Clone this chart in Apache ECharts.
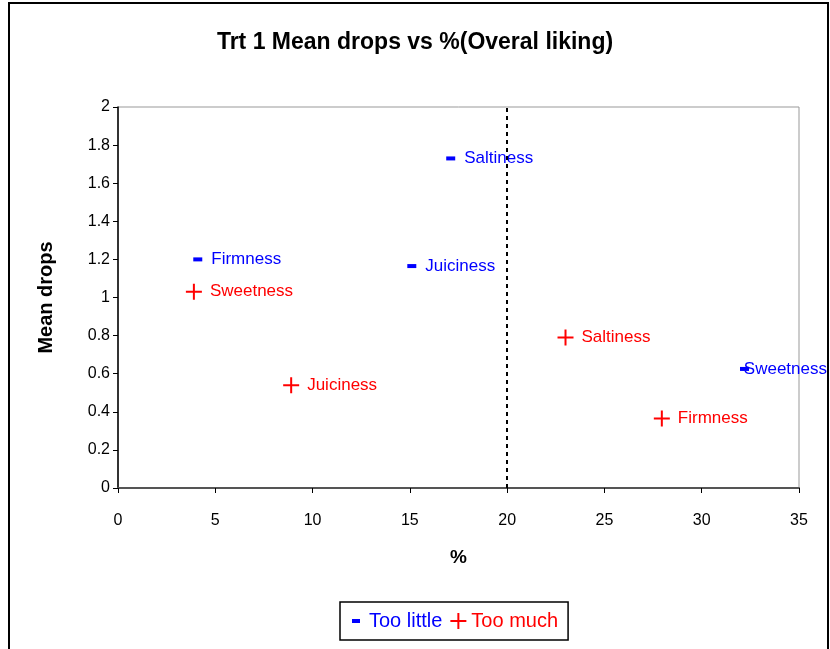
<!DOCTYPE html>
<html>
<head>
<meta charset="utf-8">
<script src="https://cdn.jsdelivr.net/npm/echarts@6/dist/echarts.min.js"></script>
<style>html,body{margin:0;padding:0;background:#fff}#c{width:830px;height:649px}</style>
</head>
<body>
<div id="c"></div>
<script>
const tooLittleNames = ['Firmness', 'Saltiness', 'Juiciness', 'Sweetness'];
const tooLittleX = [4.1, 17.1, 15.1, 32.2];
const tooLittleY = [1.2, 1.73, 1.165, 0.625];
const tooMuchNames = ['Sweetness', 'Juiciness', 'Saltiness', 'Firmness'];
const tooMuchX = [3.9, 8.9, 23.0, 27.95];
const tooMuchY = [1.03, 0.54, 0.79, 0.365];
const cutoffX = 20;

const dashPath = 'path://M0,0h10v4h-10z';
const plusPath = 'path://M7,0h2v16h-2z M0,7h16v2h-16z';
const font = 'Liberation Sans, Arial, sans-serif';

function pts(xs, ys, names) { return xs.map((x, i) => ({ value: [x, ys[i]], name: names[i] })); }

const chart = echarts.init(document.getElementById('c'), null, { renderer: 'canvas' });
chart.setOption({
  animation: false,
  backgroundColor: '#fff',
  title: {
    text: 'Trt 1 Mean drops vs %(Overal liking)',
    left: 'center', top: 26,
    textStyle: { fontFamily: font, fontSize: 23, fontWeight: 'bold', color: '#000' }
  },
  grid: { left: 118, right: 31, top: 107, bottom: 161, show: true, borderColor: '#999', borderWidth: 1 },
  xAxis: {
    type: 'value', min: 0, max: 35, interval: 5,
    name: '%', nameLocation: 'middle', nameGap: 60,
    nameTextStyle: { fontFamily: font, fontSize: 19, fontWeight: 'bold', color: '#000' },
    axisLine: { lineStyle: { color: '#555', width: 2 } },
    axisTick: { show: true, length: 5, lineStyle: { color: '#000' } },
    axisLabel: { fontFamily: font, fontSize: 16, color: '#000', margin: 25 },
    splitLine: { show: false }
  },
  yAxis: {
    type: 'value', min: 0, max: 2, interval: 0.2,
    name: 'Mean drops', nameLocation: 'middle', nameGap: 62, nameRotate: 90,
    nameTextStyle: { fontFamily: font, fontSize: 20, fontWeight: 'bold', color: '#000' },
    axisLine: { show: true, onZero: false, lineStyle: { color: '#000', width: 1.5 } },
    axisTick: { show: true, length: 5, lineStyle: { color: '#000' } },
    axisLabel: { fontFamily: font, fontSize: 16, color: '#000', margin: 8 },
    splitLine: { show: false }
  },
  legend: {
    bottom: 9, left: 340,
    itemGap: 8, itemWidth: 16, itemHeight: 16,
    borderColor: '#000', borderWidth: 1.5, padding: [9, 10, 9, 8],
    textStyle: { fontFamily: font, fontSize: 20 },
    data: [
      { name: 'Too little', icon: 'path://M0,0M16,16M4,6h8v4h-8z', itemStyle: { color: '#0000ff' }, textStyle: { color: '#0000ff' } },
      { name: 'Too much', icon: plusPath, itemStyle: { color: '#ff0000' }, textStyle: { color: '#ff0000' } }
    ]
  },
  labelLayout: function (p) {
    const r = p.labelRect;
    if (r.x + r.width > 828) return { x: 827 - r.width, y: r.y, align: 'left', verticalAlign: 'top' };
    return {};
  },
  series: [
    {
      name: 'Too little', type: 'scatter',
      symbol: dashPath, symbolSize: [9, 4],
      itemStyle: { color: '#0000ff', opacity: 1 },
      label: { show: true, position: 'right', distance: 9, formatter: '{b}', fontFamily: font, fontSize: 17, color: '#0000ff' },
      data: pts(tooLittleX, tooLittleY, tooLittleNames),
      markLine: {
        silent: true, symbol: 'none', label: { show: false },
        lineStyle: { color: '#000', type: [4, 4], width: 2, opacity: 1 },
        data: [{ xAxis: cutoffX }]
      }
    },
    {
      name: 'Too much', type: 'scatter',
      symbol: plusPath, symbolSize: 16,
      itemStyle: { color: '#ff0000', opacity: 1 },
      label: { show: true, position: 'right', distance: 8, formatter: '{b}', fontFamily: font, fontSize: 17, color: '#ff0000' },
      data: pts(tooMuchX, tooMuchY, tooMuchNames)
    }
  ],
  graphic: [
    { type: 'polyline', shape: { points: [[9, 649], [9, 3], [828, 3], [828, 649]] }, style: { stroke: '#000', lineWidth: 2, fill: null }, silent: true }
  ]
});
</script>
</body>
</html>
